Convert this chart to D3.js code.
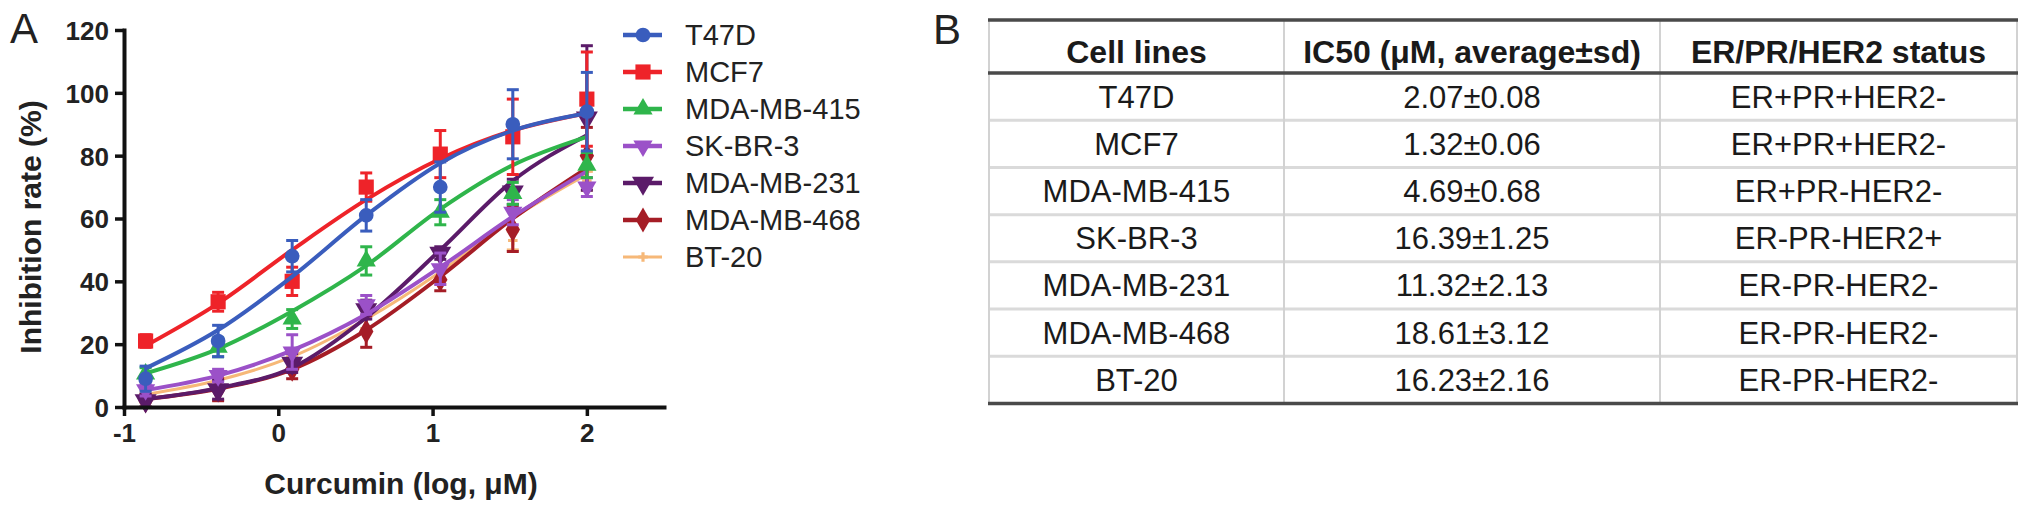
<!DOCTYPE html>
<html>
<head>
<meta charset="utf-8">
<script src="https://cdn.jsdelivr.net/npm/d3@7"></script>
<style>
  body { margin: 0; background: #fff; }
  svg { display: block; font-family: "Liberation Sans", Arial, sans-serif; }
</style>
</head>
<body>
<svg id="fig" width="2031" height="515"></svg>
<script>
// log10 of curcumin dose (uM)
const doses = [-0.86, -0.39, 0.09, 0.57, 1.05, 1.52, 2.0]

const cellLines = ["T47D", "MCF7", "MDA-MB-415", "SK-BR-3", "MDA-MB-231", "MDA-MB-468", "BT-20"]
const colors = ["#3a5dbd", "#ee2329", "#2fb54b", "#9b51c8", "#5b1b69", "#a51d26", "#f6b878"]

// measured inhibition (%), mean and sd
const t47dMean = [9, 21, 48, 61, 70, 90, 94]
const t47dSd = [4, 5, 5, 5, 8, 11, 12.5]
const mcf7Mean = [21, 33.5, 40, 70, 80.5, 86, 98]
const mcf7Sd = [2, 3, 4.5, 4.5, 7.5, 12, 15]
const mb415Mean = [10.5, 19, 28, 46.5, 62, 68, 77]
const mb415Sd = [2, 3, 3, 4.5, 4, 3.5, 4]
const skbr3Mean = [5.5, 10, 17.5, 32.5, 44, 62, 70]
const skbr3Sd = [2, 2, 5.5, 3, 5, 4, 3]
const mb231Mean = [2, 5.5, 14, 31, 49, 68.5, 92]
const mb231Sd = [2, 3, 3, 3, 2, 4, 23]
const mb468Mean = [2, 5.5, 12, 24, 40.5, 56.5, 80]
const mb468Sd = [2, 3.5, 3, 5, 3.5, 7, 9]
const bt20Mean = [3, 7.5, 14, 28, 42, 53, 72]
const bt20Sd = [1.5, 2, 2, 3, 3, 3, 3]

// fitted curves at the same doses
const t47dFit = [12.3, 24.5, 41.5, 61, 77.6, 88, 93.5]
const mcf7Fit = [19.5, 33, 50, 66, 79, 88, 93.5]
const mb415Fit = [10.7, 18.5, 30.5, 45, 63, 77, 86]
const skbr3Fit = [5.4, 10, 18, 29.5, 44.5, 60.6, 75]
const mb231Fit = [2.5, 6, 12.5, 28.5, 50, 72, 86.5]
const mb468Fit = [2.5, 5.8, 12, 24.5, 41.5, 60, 76]
const bt20Fit = [4, 8.5, 16, 28, 43, 60, 74]

const yTicks = [0, 20, 40, 60, 80, 100, 120]
const xTicks = [-1, 0, 1, 2]

// table B
const ic50 = ["2.07±0.08", "1.32±0.06", "4.69±0.68", "16.39±1.25", "11.32±2.13", "18.61±3.12", "16.23±2.16"]
const receptorStatus = ["ER+PR+HER2-", "ER+PR+HER2-", "ER+PR-HER2-", "ER-PR-HER2+", "ER-PR-HER2-", "ER-PR-HER2-", "ER-PR-HER2-"]
const tableHeaders = ["Cell lines", "IC50 (μM, average±sd)", "ER/PR/HER2 status"]

const means = [t47dMean, mcf7Mean, mb415Mean, skbr3Mean, mb231Mean, mb468Mean, bt20Mean]
const sds = [t47dSd, mcf7Sd, mb415Sd, skbr3Sd, mb231Sd, mb468Sd, bt20Sd]
const fits = [t47dFit, mcf7Fit, mb415Fit, skbr3Fit, mb231Fit, mb468Fit, bt20Fit]

const series = cellLines.map((name, i) => ({
  name, color: colors[i], index: i,
  points: doses.map((x, j) => ({ x, y: means[i][j], sd: sds[i][j] })),
  fit: doses.map((x, j) => ({ x, y: fits[i][j] }))
}))

const svg = d3.select("#fig")

// ---- panel A ----
const x = d3.scaleLinear().domain([-1, 2.5]).range([124, 664])
const y = d3.scaleLinear().domain([0, 120]).range([407, 30])

const shapes = [
  { type: d3.symbolCircle, size: 170, rot: 0 },
  { type: d3.symbolSquare, size: 230, rot: 0 },
  { type: d3.symbolTriangle, size: 160, rot: 0 },
  { type: d3.symbolTriangle, size: 160, rot: 180 },
  { type: d3.symbolTriangle, size: 210, rot: 180 },
  { type: d3.symbolDiamond, size: 180, rot: 0 },
  { type: d3.symbolCross, size: 50, rot: 0 }
]

const line = d3.line()
  .x(d => x(d.x))
  .y(d => y(d.y))
  .curve(d3.curveMonotoneX)

const plot = svg.append("g")

// draw last series first so T47D ends on top
series.slice().reverse().forEach(s => {
  const g = plot.append("g")
  const shp = shapes[s.index]
  const thin = s.name === "BT-20"

  g.append("path")
    .datum(s.fit)
    .attr("fill", "none")
    .attr("stroke", s.color)
    .attr("stroke-width", thin ? 3 : 4)
    .attr("d", line)

  const bars = g.selectAll(".err").data(s.points).join("g")
  bars.append("line")
    .attr("x1", d => x(d.x)).attr("x2", d => x(d.x))
    .attr("y1", d => y(d.y - d.sd)).attr("y2", d => y(d.y + d.sd))
    .attr("stroke", s.color).attr("stroke-width", 3)
  ;[1, -1].forEach(sign => {
    bars.append("line")
      .attr("x1", d => x(d.x) - 6).attr("x2", d => x(d.x) + 6)
      .attr("y1", d => y(d.y + sign * d.sd)).attr("y2", d => y(d.y + sign * d.sd))
      .attr("stroke", s.color).attr("stroke-width", 3)
  })

  g.selectAll(".pt").data(s.points).join("path")
    .attr("d", d3.symbol(shp.type, shp.size))
    .attr("transform", d => `translate(${x(d.x)},${y(d.y)}) rotate(${shp.rot})`)
    .attr("fill", s.color)
})

// axes
const yAxis = svg.append("g")
  .attr("transform", "translate(124,0)")
  .call(d3.axisLeft(y).tickValues(yTicks).tickSize(9).tickSizeOuter(0).tickPadding(6))
const xAxis = svg.append("g")
  .attr("transform", "translate(0,407)")
  .call(d3.axisBottom(x).tickValues(xTicks).tickFormat(d => String(d)).tickSize(9).tickSizeOuter(0).tickPadding(8))

;[yAxis, xAxis].forEach(ax => {
  ax.select(".domain").attr("stroke", "#111").attr("stroke-width", 4).attr("stroke-linecap", "square")
  ax.selectAll(".tick line").attr("stroke", "#111").attr("stroke-width", 3.5)
  ax.selectAll(".tick text")
    .attr("fill", "#222")
    .style("font-size", "26px")
    .style("font-weight", "bold")
    .style("font-family", "'Liberation Sans', Arial, sans-serif")
})
yAxis.selectAll(".tick text").attr("dy", "0.36em")

svg.append("text")
  .attr("x", 401).attr("y", 494)
  .attr("text-anchor", "middle")
  .attr("fill", "#222")
  .style("font-size", "30px").style("font-weight", "bold")
  .text("Curcumin (log, μM)")

svg.append("text")
  .attr("transform", "translate(41,227) rotate(-90)")
  .attr("text-anchor", "middle")
  .attr("fill", "#222")
  .style("font-size", "30px").style("font-weight", "bold")
  .text("Inhibition rate (%)")

svg.append("text")
  .attr("x", 10).attr("y", 43)
  .attr("fill", "#222")
  .style("font-size", "42px")
  .text("A")

// legend
const legendY = d3.scalePoint().domain(cellLines).range([35, 257])
const legend = svg.append("g")
series.forEach(s => {
  const shp = shapes[s.index]
  const ly = legendY(s.name)
  const thin = s.name === "BT-20"
  legend.append("line")
    .attr("x1", 623).attr("x2", 662).attr("y1", ly).attr("y2", ly)
    .attr("stroke", s.color).attr("stroke-width", thin ? 3 : 4.5)
  legend.append("path")
    .attr("d", d3.symbol(shp.type, shp.size))
    .attr("transform", `translate(643,${ly}) rotate(${shp.rot})`)
    .attr("fill", s.color)
  legend.append("text")
    .attr("x", 685).attr("y", ly + 10)
    .attr("fill", "#222")
    .style("font-size", "29px")
    .text(s.name)
})

// ---- panel B: table ----
svg.append("text")
  .attr("x", 933).attr("y", 44)
  .attr("fill", "#222")
  .style("font-size", "42px")
  .text("B")

const colEdges = [989, 1284, 1660, 2017]
const tableTop = 20, headerBottom = 73, tableBottom = 403.5
const rowY = d3.scaleBand().domain(cellLines).range([headerBottom, tableBottom])
const table = svg.append("g")

// light grid
rowY.domain().slice(1).forEach(name => {
  table.append("line")
    .attr("x1", colEdges[0]).attr("x2", colEdges[3])
    .attr("y1", rowY(name)).attr("y2", rowY(name))
    .attr("stroke", "#dadada").attr("stroke-width", 3)
})
colEdges.forEach(cx => {
  table.append("line")
    .attr("x1", cx).attr("x2", cx)
    .attr("y1", tableTop).attr("y2", tableBottom)
    .attr("stroke", "#d2d2d2").attr("stroke-width", 2)
})
// heavy rules
;[tableTop, headerBottom, tableBottom].forEach(ry => {
  table.append("line")
    .attr("x1", colEdges[0] - 1).attr("x2", colEdges[3] + 1)
    .attr("y1", ry).attr("y2", ry)
    .attr("stroke", "#4a4a4a").attr("stroke-width", 3.5)
})

const colMid = i => (colEdges[i] + colEdges[i + 1]) / 2
tableHeaders.forEach((h, i) => {
  table.append("text")
    .attr("x", colMid(i)).attr("y", 63)
    .attr("text-anchor", "middle")
    .attr("fill", "#1a1a1a")
    .style("font-size", "32px").style("font-weight", "bold")
    .text(h)
})

const rows = cellLines.map((name, i) => [name, ic50[i], receptorStatus[i]])
rows.forEach((cells, r) => {
  const cy = rowY(cellLines[r]) + rowY.bandwidth() / 2
  cells.forEach((c, i) => {
    table.append("text")
      .attr("x", colMid(i)).attr("y", cy + 11)
      .attr("text-anchor", "middle")
      .attr("fill", "#1a1a1a")
      .style("font-size", "31px")
      .text(c)
  })
})
</script>
</body>
</html>
